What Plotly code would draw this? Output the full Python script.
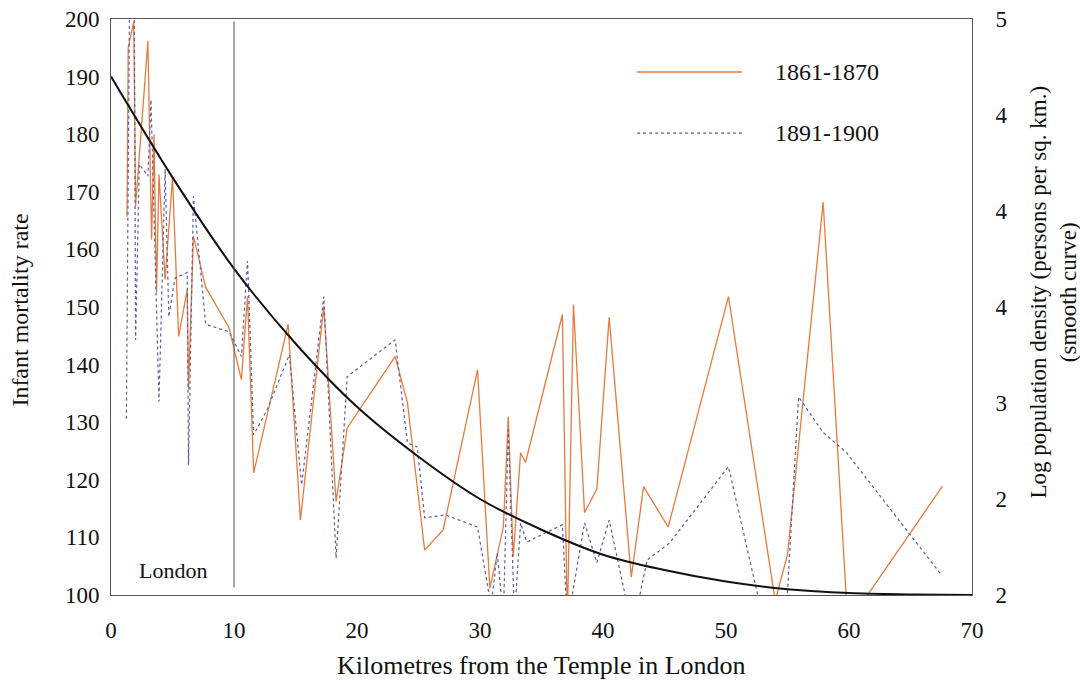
import plotly.graph_objects as go

# ---- data ----
km_1861 = [1.3, 1.4, 1.85, 2.0, 3.0, 3.3, 3.5, 3.7, 3.9, 4.4, 5.0, 5.5, 6.2, 6.3, 6.7, 7.7, 9.6,
           10.6, 11.1, 11.6, 14.4, 15.4, 17.3, 18.3, 19.2, 23.1, 24.1, 25.5, 27.0, 29.8, 30.8,
           31.4, 31.9, 32.3, 32.7, 33.3, 33.7, 36.7, 37.1, 37.6, 38.5, 39.5, 40.5, 42.3, 43.3,
           45.3, 50.2, 54.0, 55.0, 57.9, 59.9, 67.6]
imr_1861 = [165.7, 195.1, 199.5, 167.5, 196.2, 161.7, 180.0, 152.5, 173.0, 154.8, 172.5, 144.9,
            153.0, 135.7, 162.3, 153.4, 146.4, 137.4, 151.8, 121.2, 147.0, 113.0, 150.1, 116.2,
            129.0, 141.4, 133.4, 107.8, 111.3, 139.1, 101.2, 107.3, 111.8, 131.0, 106.6, 124.7,
            123.0, 148.7, 95.0, 150.4, 114.3, 118.4, 148.2, 103.1, 118.8, 111.8, 151.8, 99.0,
            107.0, 168.2, 95.0, 118.9]

km_1891 = [1.25, 1.5, 1.9, 2.0, 2.3, 3.0, 3.25, 3.9, 4.4, 4.7, 5.2, 6.2, 6.3, 6.7, 7.7, 9.6,
           10.6, 11.1, 11.6, 12.7, 14.5, 15.5, 17.3, 18.3, 19.2, 23.1, 24.1, 24.9, 25.5, 27.2,
           29.8, 30.9, 31.4, 31.9, 32.3, 32.8, 33.3, 33.8, 36.7, 37.1, 38.5, 39.5, 40.5, 42.4,
           43.6, 45.4, 50.2, 54.5, 55.9, 57.9, 59.8, 67.4]
imr_1891 = [130.6, 201.0, 200.0, 144.3, 174.8, 172.7, 186.0, 133.6, 174.0, 148.3, 155.0, 156.0,
            122.6, 169.2, 147.0, 145.7, 141.4, 158.0, 127.8, 132.2, 141.7, 119.1, 151.8, 106.4,
            137.9, 144.3, 126.4, 125.7, 113.4, 113.9, 111.8, 98.0, 107.3, 96.0, 128.7, 96.0,
            112.5, 109.2, 112.2, 95.0, 112.5, 105.6, 113.0, 94.0, 106.1, 109.0, 122.3, 82.0,
            134.4, 128.2, 124.7, 103.8]

km_curve = [0, 5, 10, 15, 20, 25, 30, 35, 40, 45, 50, 55, 60, 65, 70]
logdens_curve = [4.70, 4.175, 3.70, 3.31, 2.98, 2.72, 2.50, 2.34, 2.21, 2.13, 2.07, 2.03, 2.01,
                 2.003, 2.0]

left_ticks = [100, 110, 120, 130, 140, 150, 160, 170, 180, 190, 200]
right_tickvals = [2, 2.5, 3, 3.5, 4, 4.5, 5]
right_ticktext = ["2", "2", "3", "4", "4", "4", "5"]
x_ticks = [0, 10, 20, 30, 40, 50, 60, 70]

ORANGE = "#e67c3c"
BLUE = "#5b5ba6"
FONT = "Liberation Serif"
TICK = 23

fig = go.Figure()
fig.add_trace(go.Scatter(x=km_1861, y=imr_1861, mode="lines", name="1861-1870",
                         line=dict(color=ORANGE, width=1.3)))
fig.add_trace(go.Scatter(x=km_1891, y=imr_1891, mode="lines", name="1891-1900",
                         line=dict(color=BLUE, width=1.2, dash="dot")))
fig.add_trace(go.Scatter(x=km_curve, y=logdens_curve, mode="lines", yaxis="y2",
                         line=dict(color="#111111", width=2, shape="spline"),
                         name="smooth", showlegend=False))

axis_line = dict(showline=True, linecolor="#555555", linewidth=1, showgrid=False,
                 zeroline=False, ticks="", automargin=False,
                 tickfont=dict(family=FONT, size=TICK, color="#111111"))

fig.update_layout(
    width=1080, height=682,
    margin=dict(l=111, r=108, t=19, b=87),
    paper_bgcolor="white", plot_bgcolor="white",
    showlegend=False,
    font=dict(family=FONT, size=20, color="#111111"),
    xaxis=dict(range=[0, 70], tickvals=x_ticks, mirror=True, ticklabelstandoff=14, **axis_line),
    yaxis=dict(range=[100, 200], tickvals=left_ticks, ticklabelstandoff=6, **axis_line),
    yaxis2=dict(range=[2, 5], tickvals=right_tickvals, ticktext=right_ticktext,
                overlaying="y", side="right", ticklabelstandoff=18, **axis_line),
)

# London boundary line and label
fig.add_shape(type="line", xref="x", yref="y", x0=10, x1=10, y0=101.3, y1=199.6,
              line=dict(color="#555555", width=1))
fig.add_annotation(x=5, y=104.3, xref="x", yref="y", text="London", showarrow=False,
                   xanchor="center", yanchor="middle", font=dict(family=FONT, size=22))

# legend drawn manually
leg = [("1861-1870", ORANGE, "solid", 0.908), ("1891-1900", BLUE, "dot", 0.802)]
for name, col, dash, yy in leg:
    fig.add_shape(type="line", xref="paper", yref="paper", x0=0.611, x1=0.733, y0=yy, y1=yy,
                  line=dict(color=col, width=1.3, dash=dash))
    fig.add_annotation(x=0.769, y=yy, xref="paper", yref="paper", text=name, showarrow=False,
                       xanchor="left", yanchor="middle", font=dict(family=FONT, size=24))

# axis titles
fig.add_annotation(x=-0.106, y=0.495, xref="paper", yref="paper", text="Infant mortality rate",
                   showarrow=False, textangle=-90, xanchor="center", yanchor="middle",
                   font=dict(family=FONT, size=24))
fig.add_annotation(x=0.5, y=-0.122, xref="paper", yref="paper",
                   text="Kilometres from the Temple in London", showarrow=False,
                   xanchor="center", yanchor="middle", font=dict(family=FONT, size=26))
fig.add_annotation(x=1.0, y=0.525, xref="paper", yref="paper",
                   text="Log population density (persons per sq. km.)<br>(smooth curve)",
                   showarrow=False, textangle=-90, xanchor="center", yanchor="middle",
                   xshift=82, font=dict(family=FONT, size=23))

fig.write_html("out.html", config={"displayModeBar": False},
               post_script="document.body.style.margin='0';")
